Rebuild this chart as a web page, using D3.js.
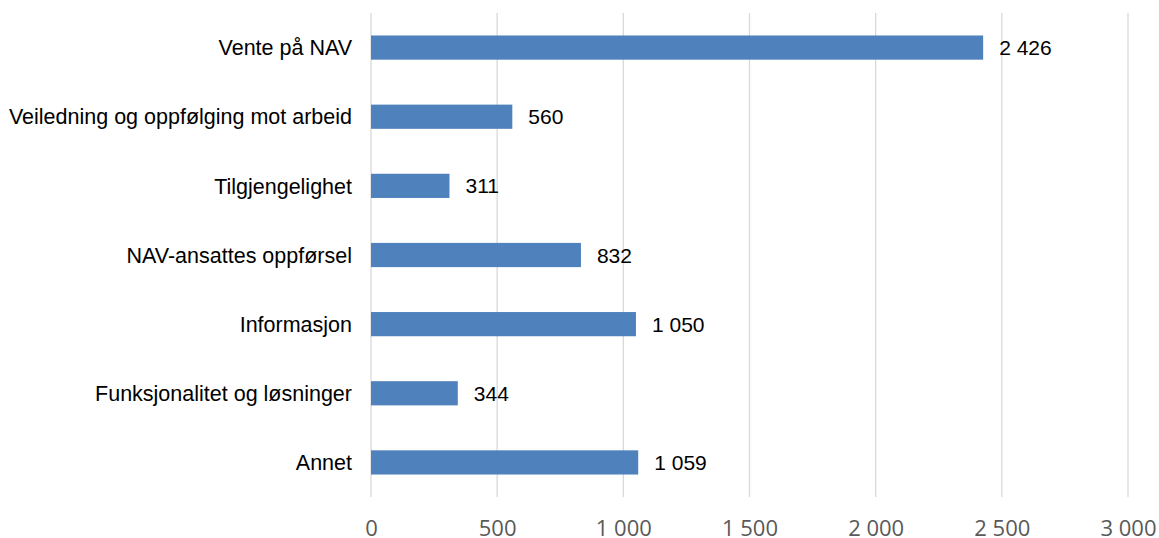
<!DOCTYPE html>
<html>
<head>
<meta charset="utf-8">
<script src="https://cdn.jsdelivr.net/npm/d3@7"></script>
<style>
  body { margin: 0; background: #fff; }
</style>
</head>
<body>
<div id="chart"></div>
<script>
//chart data
var categories = ["Vente på NAV", "Veiledning og oppfølging mot arbeid", "Tilgjengelighet",
    "NAV-ansattes oppførsel", "Informasjon", "Funksjonalitet og løsninger", "Annet"];
var values = [2426, 560, 311, 832, 1050, 344, 1059];
var ticks = [0, 500, 1000, 1500, 2000, 2500, 3000];

var svgWidth = 1159;
var svgHeight = 538;

var margin = {top: 13, right: 31, bottom: 41, left: 371};
var width = svgWidth - margin.left - margin.right;
var height = svgHeight - margin.top - margin.bottom;

//format with space as thousands separator
var fmt = function(v) { return d3.format(",")(v).replace(/,/g, " "); };

var svg = d3.select("#chart").append("svg")
    .attr("width", svgWidth)
    .attr("height", svgHeight);

var chartGroup = svg.append("g")
    .attr("transform", `translate(${margin.left}, ${margin.top})`);

var xScale = d3.scaleLinear().domain([0, 3000]).range([0, width]);
var yScale = d3.scaleBand().domain(categories).range([0, height]).paddingInner(0.65).paddingOuter(0.325);

//gridlines
chartGroup.selectAll(".grid")
    .data(ticks)
    .enter()
    .append("line")
    .attr("x1", d => xScale(d))
    .attr("x2", d => xScale(d))
    .attr("y1", 0)
    .attr("y2", height)
    .attr("stroke", "#d9d9d9")
    .attr("stroke-width", 1.3);

//x tick labels
var xAxis = chartGroup.append("g")
    .attr("transform", `translate(0, ${height})`)
    .call(d3.axisBottom(xScale).tickValues(ticks).tickFormat(fmt).tickSize(0));
xAxis.select(".domain").remove();
xAxis.selectAll("text")
    .attr("y", 39)
    .attr("dy", 0)
    .attr("font-family", "'Open Sans', sans-serif")
    .attr("font-size", "22px")
    .attr("fill", "#595959");

//bars
chartGroup.selectAll("rect")
    .data(values)
    .enter()
    .append("rect")
    .attr("x", xScale(0))
    .attr("y", (d, i) => yScale(categories[i]))
    .attr("width", d => xScale(d) - xScale(0))
    .attr("height", yScale.bandwidth())
    .attr("fill", "#4f81bd");

//value labels
chartGroup.selectAll(".val")
    .data(values)
    .enter()
    .append("text")
    .attr("x", d => xScale(d) + 16)
    .attr("y", (d, i) => yScale(categories[i]) + yScale.bandwidth() / 2)
    .attr("dy", "0.36em")
    .attr("font-family", "'Liberation Sans', Arial, sans-serif")
    .attr("font-size", "21px")
    .attr("fill", "#000")
    .text(fmt);

//category labels
chartGroup.selectAll(".cat")
    .data(categories)
    .enter()
    .append("text")
    .attr("x", -19)
    .attr("y", d => yScale(d) + yScale.bandwidth() / 2)
    .attr("dy", "0.36em")
    .attr("text-anchor", "end")
    .attr("font-family", "'Liberation Sans', Arial, sans-serif")
    .attr("font-size", "21.5px")
    .attr("fill", "#000")
    .text(d => d);
</script>
</body>
</html>
